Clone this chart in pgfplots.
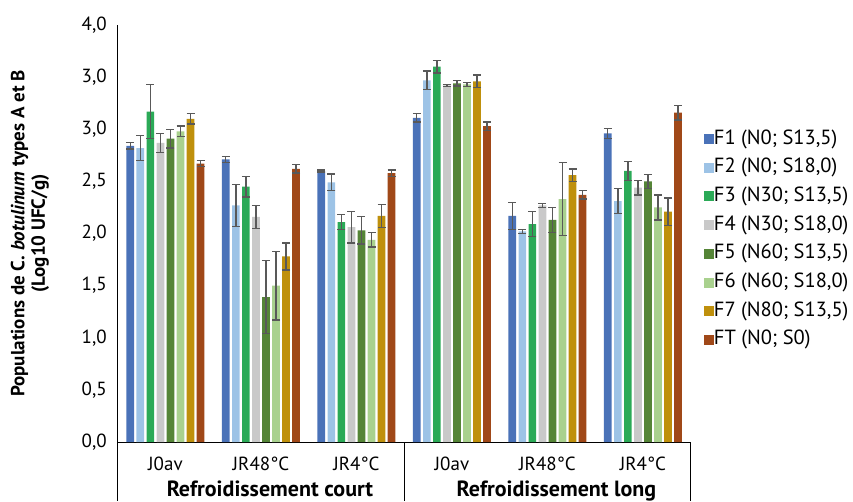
\documentclass[border=0pt]{standalone}
\usepackage{fontspec}
\setmainfont{PT Sans}
\usepackage{pgfplots}
\pgfplotsset{compat=1.18}
\usepackage{pgfplotstable}

\definecolor{cF1}{HTML}{4A72B8}
\definecolor{cF2}{HTML}{9DC3E6}
\definecolor{cF3}{HTML}{2BAA57}
\definecolor{cF4}{HTML}{C9C9C9}
\definecolor{cF5}{HTML}{558537}
\definecolor{cF6}{HTML}{A9D18E}
\definecolor{cF7}{HTML}{BF900C}
\definecolor{cFT}{HTML}{A04818}
\definecolor{errgray}{HTML}{595959}

\pgfplotstableread{
x F1 e1 F2 e2 F3 e3 F4 e4 F5 e5 F6 e6 F7 e7 FT eT
0 2.84 0.03 2.82 0.12 3.17 0.26 2.87 0.09 2.91 0.09 2.98 0.05 3.10 0.05 2.67 0.03
1 2.71 0.03 2.27 0.20 2.45 0.10 2.16 0.11 1.39 0.35 1.50 0.33 1.78 0.13 2.62 0.04
2 2.60 0.01 2.49 0.08 2.11 0.07 2.06 0.15 2.03 0.13 1.94 0.07 2.17 0.11 2.58 0.03
3 3.11 0.04 3.47 0.09 3.60 0.06 3.42 0.01 3.44 0.025 3.43 0.02 3.46 0.06 3.03 0.04
4 2.17 0.13 2.02 0.02 2.09 0.12 2.27 0.02 2.13 0.12 2.33 0.35 2.56 0.06 2.37 0.04
5 2.96 0.05 2.31 0.12 2.60 0.09 2.44 0.07 2.50 0.065 2.25 0.12 2.21 0.13 3.16 0.07
}\data

\begin{document}
\begin{tikzpicture}
\begin{axis}[
  at={(0,0)}, anchor=south west,
  scale only axis, width=573pt, height=417pt,
  xmin=-0.5, xmax=5.5, ymin=0, ymax=4,
  ybar=2.34pt, bar width=7.7pt,
  axis x line=bottom, axis y line=left,
  axis line style={-, line width=1pt, black},
  xtick={0,1,2,3,4,5},
  xticklabels={J0av, JR48°C, JR4°C, J0av, JR48°C, JR4°C},
  ytick={0,0.5,1,1.5,2,2.5,3,3.5,4},
  yticklabels={{0,0},{0,5},{1,0},{1,5},{2,0},{2,5},{3,0},{3,0},{4,0}},
  major tick length=0pt,
  tick label style={font=\fontsize{19}{22}\selectfont},
  xticklabel style={anchor=base, yshift=-28pt},
  yticklabel style={xshift=-7.5pt},
  clip=false,
  legend cell align=left,
  legend style={at={(1,0.5)}, anchor=west, xshift=10pt, yshift=-6pt,
    draw=none, fill=none, font=\fontsize{20.5}{23}\selectfont,
    row sep=10.7pt,
    nodes={inner sep=0pt, text height=14pt, text depth=4pt}},
  legend image code/.code={\fill[#1] (0pt,-5pt) rectangle (10pt,5pt);},
  error bars/error bar style={draw=errgray, line width=1.3pt},
  error bars/error mark options={rotate=90, mark size=4pt, line width=1.3pt, draw=errgray},
]
\addplot[fill=cF1, draw=none, error bars/.cd, y dir=both, y explicit] table[x=x, y=F1, y error=e1] {\data};
\addplot[fill=cF2, draw=none, error bars/.cd, y dir=both, y explicit] table[x=x, y=F2, y error=e2] {\data};
\addplot[fill=cF3, draw=none, error bars/.cd, y dir=both, y explicit] table[x=x, y=F3, y error=e3] {\data};
\addplot[fill=cF4, draw=none, error bars/.cd, y dir=both, y explicit] table[x=x, y=F4, y error=e4] {\data};
\addplot[fill=cF5, draw=none, error bars/.cd, y dir=both, y explicit] table[x=x, y=F5, y error=e5] {\data};
\addplot[fill=cF6, draw=none, error bars/.cd, y dir=both, y explicit] table[x=x, y=F6, y error=e6] {\data};
\addplot[fill=cF7, draw=none, error bars/.cd, y dir=both, y explicit] table[x=x, y=F7, y error=e7] {\data};
\addplot[fill=cFT, draw=none, error bars/.cd, y dir=both, y explicit] table[x=x, y=FT, y error=eT] {\data};
\legend{F1 (N0; S13{,}5), F2 (N0; S18{,}0), F3 (N30; S13{,}5), F4 (N30; S18{,}0), F5 (N60; S13{,}5), F6 (N60; S18{,}0), F7 (N80; S13{,}5), FT (N0; S0)}
\draw[line width=1pt] (axis cs:-0.5,0) -- ([yshift=-59pt]axis cs:-0.5,0);
\draw[line width=1pt] (axis cs:2.5,0) -- ([yshift=-59pt]axis cs:2.5,0);
\draw[line width=1pt] (axis cs:5.5,0) -- ([yshift=-59pt]axis cs:5.5,0);
\node[anchor=base, font=\bfseries\fontsize{22}{24}\selectfont] at ([xshift=9pt,yshift=-54pt]axis cs:1,0) {Refroidissement court};
\node[anchor=base, font=\bfseries\fontsize{22}{24}\selectfont] at ([xshift=9pt,yshift=-54pt]axis cs:4,0) {Refroidissement long};
\end{axis}
\node[rotate=90, align=center, font=\bfseries\fontsize{19}{20.5}\selectfont] at (-87.7pt,208.5pt)
  {Populations de C. \textit{botulinum} types A et B\\(Log10 UFC/g)};
\pgfresetboundingbox
\path[use as bounding box] (-117.7pt,-59pt) rectangle (735.3pt,442pt);
\end{tikzpicture}
\end{document}
